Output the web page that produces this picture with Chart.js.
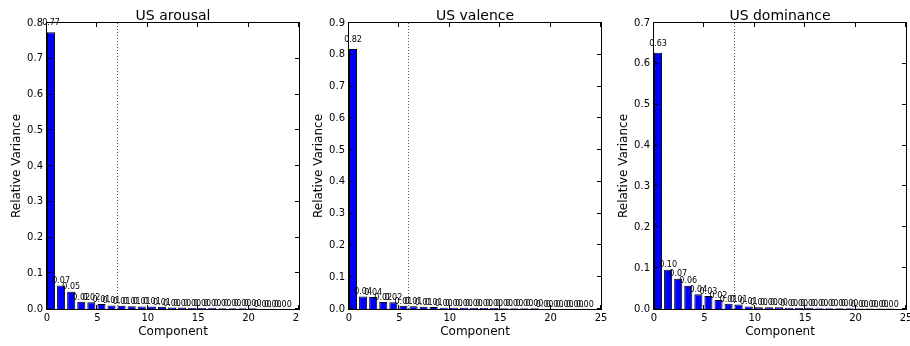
<!DOCTYPE html>
<html>
<head>
<meta charset="utf-8">
<script src="https://cdn.jsdelivr.net/npm/chart.js@4.4.1/dist/chart.umd.min.js"></script>
<style>
    body { margin: 0; background: #fff; width: 910px; height: 346px; position: relative; overflow: hidden; }
    canvas { position: absolute; top: 0; }
</style>
</head>
<body>
<canvas id="arousal" width="300" height="346" style="left:0px"></canvas>
<canvas id="valence" width="309" height="346" style="left:302px"></canvas>
<canvas id="dominance" width="303" height="346" style="left:607px"></canvas>
<script>
// PCA components and their share of the variance for each US rating
const components = [0, 1, 2, 3, 4, 5, 6, 7, 8, 9, 10, 11, 12, 13, 14, 15, 16, 17, 18, 19, 20, 21, 22, 23];

const arousalVariance = [0.774, 0.066, 0.048, 0.020, 0.019, 0.014, 0.010, 0.009, 0.008, 0.007, 0.007, 0.006,
                         0.004, 0.004, 0.003, 0.003, 0.003, 0.002, 0.002, 0.002, 0.002, 0.001, 0.001, 0.001];
const valenceVariance = [0.818, 0.039, 0.038, 0.022, 0.021, 0.010, 0.009, 0.007, 0.006, 0.004, 0.004, 0.004,
                         0.003, 0.003, 0.003, 0.002, 0.002, 0.002, 0.002, 0.001, 0.001, 0.001, 0.001, 0.001];
const dominanceVariance = [0.627, 0.096, 0.074, 0.057, 0.036, 0.032, 0.022, 0.013, 0.011, 0.006, 0.004, 0.004,
                           0.004, 0.003, 0.003, 0.003, 0.002, 0.002, 0.002, 0.002, 0.001, 0.001, 0.001, 0.001];

const xTickValues = [0, 5, 10, 15, 20, 25];
const arousalYTicks = [0.0, 0.1, 0.2, 0.3, 0.4, 0.5, 0.6, 0.7, 0.8];
const valenceYTicks = [0.0, 0.1, 0.2, 0.3, 0.4, 0.5, 0.6, 0.7, 0.8, 0.9];
const dominanceYTicks = [0.0, 0.1, 0.2, 0.3, 0.4, 0.5, 0.6, 0.7];

// number of components kept (dotted line)
const arousalCutoff = 7;
const valenceCutoff = 6;
const dominanceCutoff = 8;

Chart.defaults.font.family = '"DejaVu Sans", sans-serif';
Chart.defaults.color = '#000';

// frame, inward ticks, cutoff line, value labels and title
const axesDecor = {
    id: 'axesDecor',
    afterDatasetsDraw(chart, args, opts) {
        const ctx = chart.ctx;
        const a = chart.chartArea;
        const x = chart.scales.x;
        const y = chart.scales.y;
        ctx.save();

        // dotted cutoff line
        const cx = Math.round(x.getPixelForValue(opts.cutoff)) - 0.5;
        ctx.strokeStyle = '#555';
        ctx.lineWidth = 1;
        ctx.setLineDash([1, 2]);
        ctx.beginPath();
        ctx.moveTo(cx, a.top);
        ctx.lineTo(cx, a.bottom);
        ctx.stroke();
        ctx.setLineDash([]);

        // bar values
        ctx.fillStyle = '#000';
        ctx.font = '8px "DejaVu Sans"';
        ctx.textAlign = 'center';
        ctx.textBaseline = 'alphabetic';
        chart.data.datasets[0].data.forEach(p => {
            ctx.fillText(p.y.toFixed(2), x.getPixelForValue(p.x), y.getPixelForValue(p.y * 1.02) - 2);
        });

        // axes box
        ctx.strokeStyle = '#000';
        ctx.strokeRect(a.left - 0.5, a.top - 0.5, a.right - a.left + 1, a.bottom - a.top + 1);

        // ticks pointing inwards on all four sides
        ctx.beginPath();
        x.ticks.forEach(t => {
            const px = Math.round(x.getPixelForValue(t.value)) - 0.5;
            ctx.moveTo(px, a.bottom); ctx.lineTo(px, a.bottom - 4);
            ctx.moveTo(px, a.top); ctx.lineTo(px, a.top + 4);
        });
        y.ticks.forEach(t => {
            const py = Math.round(y.getPixelForValue(t.value)) - 0.5;
            ctx.moveTo(a.left, py); ctx.lineTo(a.left + 4, py);
            ctx.moveTo(a.right, py); ctx.lineTo(a.right - 4, py);
        });
        ctx.stroke();

        // title
        ctx.font = '14px "DejaVu Sans"';
        ctx.textAlign = 'center';
        ctx.fillText(opts.title, (a.left + a.right) / 2, 20);
        ctx.restore();
    }
};

function makeChart(id, title, values, yTicks, cutoff, rightPad) {
    const ctx = document.getElementById(id).getContext('2d');
    return new Chart(ctx, {
        type: 'bar',
        data: {
            datasets: [{
                data: values.map((v, i) => ({ x: components[i] + 0.4, y: v })),
                backgroundColor: '#0000ff',
                borderColor: '#000',
                borderWidth: 1,
                categoryPercentage: 1,
                barPercentage: 0.8
            }]
        },
        options: {
            responsive: false,
            animation: false,
            layout: { padding: { top: 23, right: rightPad, bottom: 0, left: 0 } },
            plugins: {
                legend: { display: false },
                tooltip: { enabled: false },
                axesDecor: { title: title, cutoff: cutoff }
            },
            scales: {
                x: {
                    type: 'linear',
                    min: 0,
                    max: 25,
                    offset: false,
                    grid: { display: false, drawTicks: false, offset: false },
                    border: { display: false },
                    ticks: { font: { size: 10 }, padding: 3, maxRotation: 0, autoSkip: false, callback: v => String(v) },
                    title: { display: true, text: 'Component', font: { size: 12 }, padding: { top: 0, bottom: 7 } },
                    afterBuildTicks: s => { s.ticks = xTickValues.map(v => ({ value: v })); },
                    afterFit: s => { s.height = 37; s.paddingLeft = 0; s.paddingRight = 0; }
                },
                y: {
                    min: 0,
                    max: yTicks[yTicks.length - 1],
                    grid: { display: false, drawTicks: false },
                    border: { display: false },
                    ticks: { font: { size: 10 }, padding: 4, callback: v => v.toFixed(1) },
                    title: { display: true, text: 'Relative Variance', font: { size: 12 }, padding: { top: 10, bottom: 0 } },
                    afterBuildTicks: s => { s.ticks = yTicks.map(v => ({ value: v })); },
                    afterFit: s => { s.width = 47; s.paddingTop = 0; s.paddingBottom = 0; }
                }
            }
        },
        plugins: [axesDecor]
    });
}

makeChart('arousal', 'US arousal', arousalVariance, arousalYTicks, arousalCutoff, 1);
makeChart('valence', 'US valence', valenceVariance, valenceYTicks, valenceCutoff, 10);
makeChart('dominance', 'US dominance', dominanceVariance, dominanceYTicks, dominanceCutoff, 4);
</script>
</body>
</html>
